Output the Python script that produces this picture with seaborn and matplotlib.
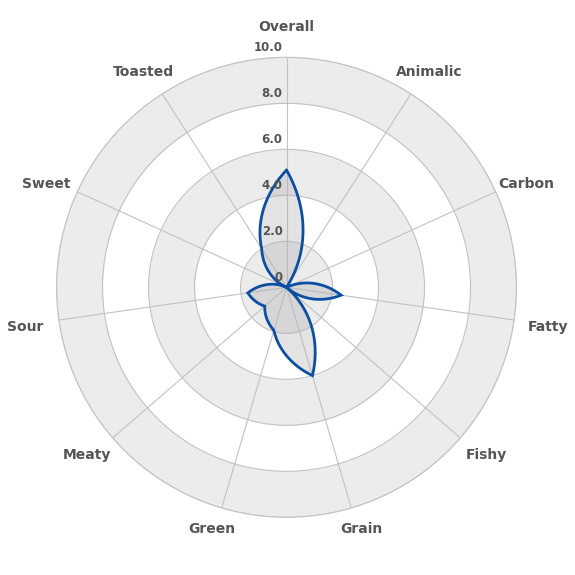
import numpy as np
import matplotlib
matplotlib.use("Agg")
import matplotlib.pyplot as plt
import seaborn as sns
from matplotlib.path import Path

# flavour profile data
categories = ["Overall", "Animalic", "Carbon", "Fatty", "Fishy", "Grain",
              "Green", "Meaty", "Sour", "Sweet", "Toasted"]
scores = [5.1, 0.0, 0.0, 2.4, 0.0, 4.0, 1.95, 1.25, 1.7, 0.0, 2.0]
ring_values = [0, 2, 4, 6, 8, 10]
ring_labels = ["0", "2.0", "4.0", "6.0", "8.0", "10.0"]

LINE_COLOR = "#0b4ea2"
TEXT_COLOR = "#555555"
GRID_COLOR = "#c2c2c2"
BAND_COLOR = "#ececed"

sns.set_theme(style="white")
plt.rcParams["font.family"] = ["DejaVu Sans"]

fig = plt.figure(figsize=(5.75, 5.75), dpi=100)
ax = fig.add_axes([0.0983, 0.1003, 0.8, 0.8], projection="polar")
ax.set_theta_zero_location("N")
ax.set_theta_direction(-1)
ax.set_ylim(0, 10)

# alternating plot bands
full = np.linspace(0, 2 * np.pi, 400)
for k, (lo, hi) in enumerate(zip(ring_values[:-1], ring_values[1:])):
    if k % 2 == 0:
        ax.fill_between(full, lo, hi, color=BAND_COLOR, lw=0, zorder=0)

n = len(categories)
angles = np.arange(n) * 2 * np.pi / n
ax.set_xticks(angles)
ax.set_xticklabels([])
ax.set_yticks(ring_values[1:])
ax.set_yticklabels([])
ax.grid(True, color=GRID_COLOR, lw=0.8)
ax.spines["polar"].set_color(GRID_COLOR)
ax.spines["polar"].set_linewidth(0.8)

# closed outline, resampled in (theta, r) so segments follow the polar grid
ring = Path(np.column_stack([np.append(angles, 2 * np.pi),
                             np.append(scores, scores[0])])).interpolated(80)
theta, r = ring.vertices[:, 0], ring.vertices[:, 1]
ax.fill(theta, r, color="#aaaaac", alpha=0.32, lw=0, zorder=3)
ax.plot(theta, r, color=LINE_COLOR, lw=2.0, zorder=4,
        solid_joinstyle="miter", solid_capstyle="round")

# category labels just outside the outer ring
for a, name in zip(angles, categories):
    dx = 34 * np.sin(a)
    dy = 25 * np.cos(a) + 5 - 8 * abs(np.sin(a))
    ax.annotate(name, xy=(a, 10), xytext=(dx, dy),
                textcoords="offset pixels", ha="center", va="center",
                fontsize=10, fontweight="bold", color=TEXT_COLOR,
                annotation_clip=False)

# radial tick labels along the top spoke
for v, lab in zip(ring_values, ring_labels):
    ax.annotate(lab, xy=(0, v), xytext=(-4, 3), textcoords="offset pixels",
                ha="right", va="bottom", fontsize=8.5, fontweight="bold",
                color=TEXT_COLOR, zorder=5)

fig.savefig("out.png", dpi=100)
